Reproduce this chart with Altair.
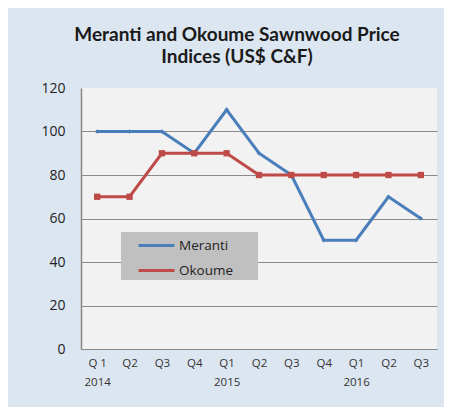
import altair as alt
import pandas as pd

quarters = ["Q 1", "Q2", "Q3", "Q4", "Q1", "Q2", "Q3", "Q4", "Q1", "Q2", "Q3"]
years = ["2014", "", "", "", "2015", "", "", "", "2016", "", ""]
meranti = [100, 100, 100, 90, 110, 90, 80, 50, 50, 70, 60]
okoume = [70, 70, 90, 90, 90, 80, 80, 80, 80, 80, 80]
series = ["Meranti", "Okoume"]
colors = ["#4a7ebb", "#be4b48"]

rows = []
for i in range(len(quarters)):
    rows.append({"idx": i, "series": "Meranti", "value": meranti[i]})
    rows.append({"idx": i, "series": "Okoume", "value": okoume[i]})
df = pd.DataFrame(rows)

label_arr = "[" + ",".join(
    "[" + ",".join(f"'{p}'" for p in ([q, y] if y else [q])) + "]"
    for q, y in zip(quarters, years)
) + "]"

x = alt.X("idx:O", title=None,
          scale=alt.Scale(paddingOuter=0.5, paddingInner=0),
          axis=alt.Axis(labelExpr=f"{label_arr}[datum.value]", labelAngle=0,
                        labelFont="Open Sans", labelFontSize=11.5, labelColor="#333333",
                        labelLineHeight=19, labelPadding=8, ticks=False,
                        domainColor="#888888", domainWidth=1.2, grid=False))
y = alt.Y("value:Q", title=None,
          scale=alt.Scale(domain=[0, 120], nice=False),
          axis=alt.Axis(values=[0, 20, 40, 60, 80, 100, 120], ticks=False,
                        labelFont="Open Sans", labelFontSize=14, labelColor="#222222",
                        labelPadding=16, domainColor="#888888", domainWidth=1.5,
                        gridColor={"condition": {"test": "datum.value === 120", "value": "transparent"},
                                   "value": "#8a8a8a"},
                        gridWidth=1.2))
color = alt.Color("series:N", scale=alt.Scale(domain=series, range=colors),
                  legend=alt.Legend(title=".", titleOrient="right", titleColor="transparent",
                                    titleFontSize=10, titlePadding=19,
                                    orient="none", legendX=40, legendY=144,
                                    fillColor="#c0c0c0", padding=3,
                                    symbolType="M-2,0H2", symbolSize=324, symbolStrokeWidth=3,
                                    labelFont="Open Sans", labelFontSize=13.5, labelColor="#222222",
                                    labelOffset=12, rowPadding=8, symbolOffset=22))

base = alt.Chart(df).encode(x=x, y=y, color=color)
lines = base.mark_line(strokeWidth=3)
pts_m = base.transform_filter(alt.datum.series == "Meranti").mark_point(
    filled=True, opacity=1, shape="diamond", size=20)
pts_o = base.transform_filter(alt.datum.series == "Okoume").mark_point(
    filled=True, opacity=1, shape="square", size=40)

chart = (lines + pts_m + pts_o).properties(
    width=356, height=261,
    title=alt.Title(["Meranti and Okoume Sawnwood Price", "Indices (US$ C&F)"],
                    font="Lato", fontSize=19, fontWeight="bold", color="#1a1a1a",
                    lineHeight=22, anchor="middle", dx=-22, offset=14),
    padding={"left": 73, "top": 80, "right": 7, "bottom": 58},
    autosize=alt.AutoSizeParams(type="none"),
    background="#dce6f1",
).configure_view(fill="#f2f2f2", stroke=None)

chart.save("out.html", embed_options={"renderer": "svg", "actions": False})
